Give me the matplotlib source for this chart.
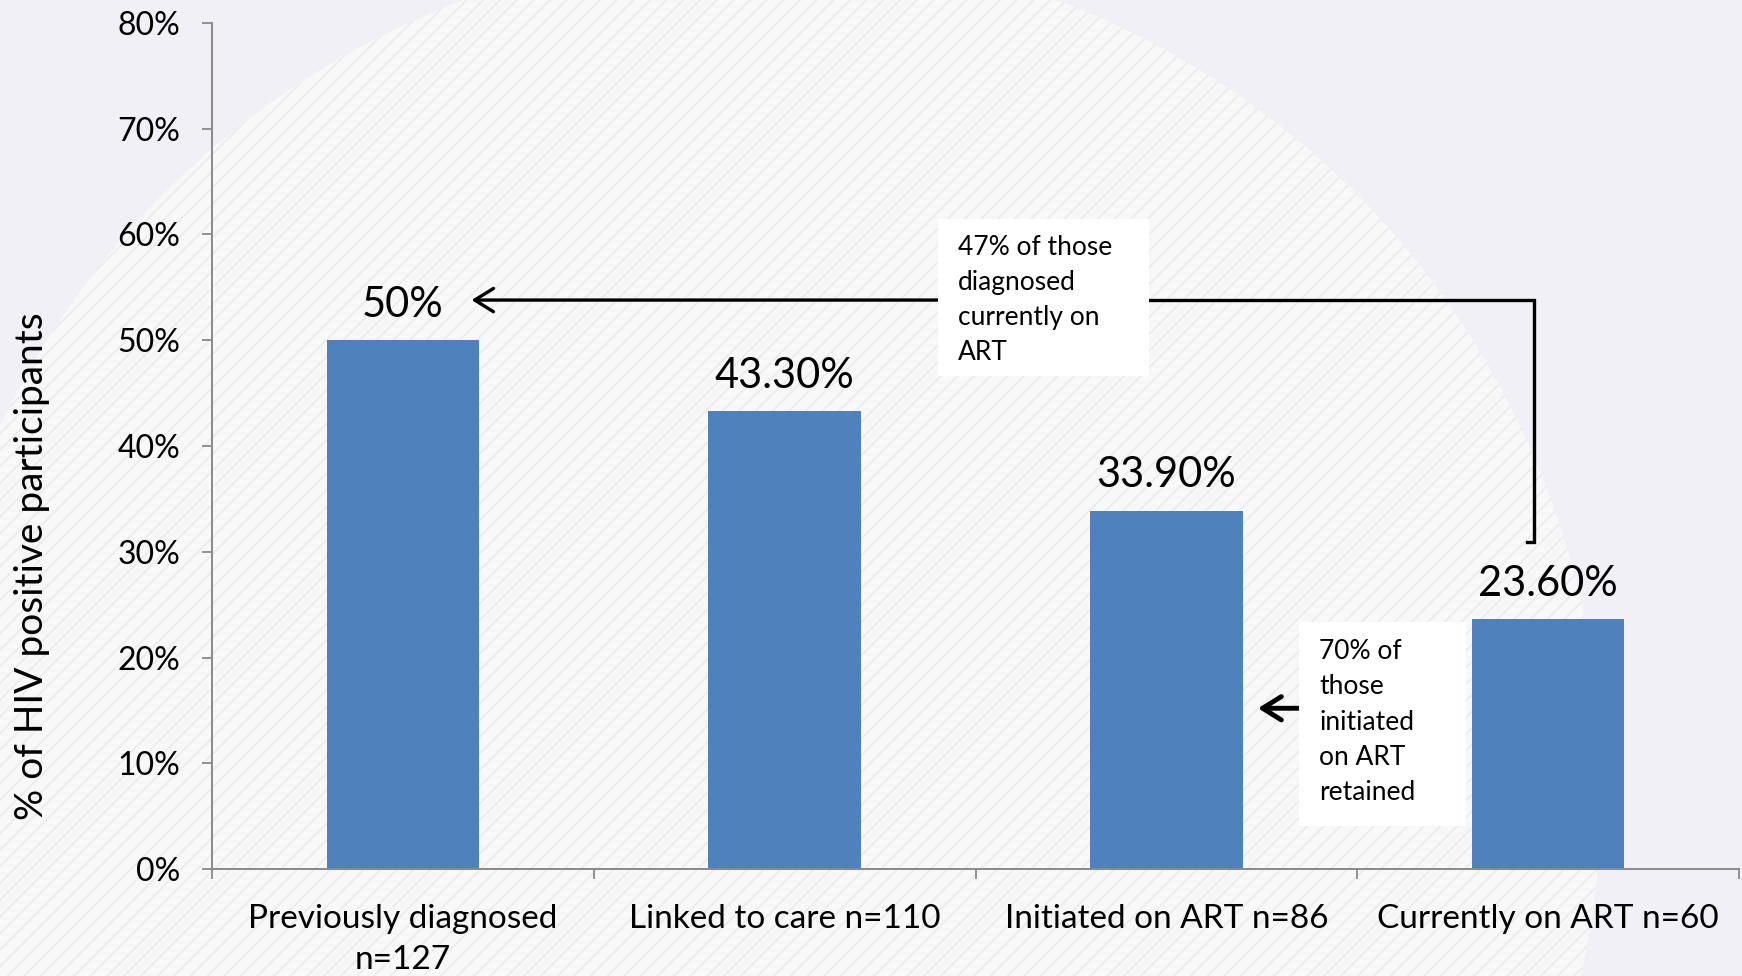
import matplotlib
matplotlib.use("Agg")
import matplotlib.pyplot as plt
from matplotlib.patches import Ellipse, Rectangle

# ---- data ----
categories = ["Previously diagnosed\nn=127", "Linked to care n=110",
              "Initiated on ART n=86", "Currently on ART n=60"]
values = [50.0, 43.3, 33.9, 23.6]
value_labels = ["50%", "43.30%", "33.90%", "23.60%"]
y_ticks = [0, 10, 20, 30, 40, 50, 60, 70, 80]
y_tick_labels = [f"{t}%" for t in y_ticks]
y_label = "% of HIV positive participants"
note_diagnosed = "47% of those\ndiagnosed\ncurrently on\nART"
note_retained = "70% of\nthose\ninitiated\non ART\nretained"

plt.rcParams["font.family"] = ["Lato", "DejaVu Sans"]
plt.rcParams["hatch.linewidth"] = 1.3

W, H = 1742, 976
fig = plt.figure(figsize=(W / 100, H / 100), dpi=100, facecolor="#f0f0f6")

# background disc with diagonal hatching
cx, cy, r = 760, 788, 842
disc = Ellipse((cx / W, 1 - cy / H), 2 * r / W, 2 * r / H, transform=fig.transFigure,
               facecolor="#f8f8f8", edgecolor="#ececec", hatch="//", linewidth=0, zorder=-1)
fig.add_artist(disc)

ax = fig.add_axes([212 / W, 1 - 869 / H, 1527 / W, 846 / H])
ax.set_facecolor("none")

x = list(range(len(categories)))
ax.bar(x, values, width=0.4, color="#4f81bd", zorder=2)

ax.set_xlim(-0.5, len(categories) - 0.5)
ax.set_ylim(0, 80)

for s in ["top", "right"]:
    ax.spines[s].set_visible(False)
for s in ["left", "bottom"]:
    ax.spines[s].set_color("#8a8a8a")
    ax.spines[s].set_linewidth(1.4)

ax.set_yticks(y_ticks)
ax.set_yticklabels(y_tick_labels, fontsize=23)
ax.tick_params(axis="y", direction="out", length=7, width=1.3, color="#8a8a8a", pad=16)

ax.set_xticks(x)
ax.set_xticklabels(categories, fontsize=24, linespacing=1.45)
ax.set_xticks([i - 0.5 for i in range(len(categories) + 1)], minor=True)
ax.tick_params(axis="x", which="major", length=0, pad=25)
ax.tick_params(axis="x", which="minor", direction="out", length=7, width=1.3, color="#8a8a8a")

ax.set_ylabel(y_label, fontsize=28, va="center")
ax.yaxis.set_label_coords(-0.118, 0.358)

# value labels
for xi, v, lbl in zip(x, values, value_labels):
    ax.annotate(lbl, (xi, v), xytext=(0, 25.5), textcoords="offset points",
                ha="center", va="center", fontsize=30, zorder=5)

# note boxes
ax.add_patch(Rectangle((1.403, 46.6), 0.552, 14.9, facecolor="white",
                       edgecolor="none", zorder=4))
ax.text(1.453, 53.8, note_diagnosed, ha="left", va="center", fontsize=19,
        linespacing=1.5, zorder=5)

ax.add_patch(Rectangle((2.348, 4.07), 0.437, 19.33, facecolor="white",
                       edgecolor="none", zorder=4))
ax.text(2.40, 13.9, note_retained, ha="left", va="center", fontsize=19,
        linespacing=1.52, zorder=5)

# bracket arrow from last bar back to first
ax.plot([2.945, 2.963, 2.963, 1.9], [30.9, 30.9, 53.8, 53.8], color="black",
        lw=2.4, solid_joinstyle="miter", zorder=3)
ax.annotate("", xy=(0.18, 53.8), xytext=(1.95, 53.8),
            arrowprops=dict(arrowstyle="->,head_length=0.45,head_width=0.28",
                            color="black", lw=2.4, shrinkA=0, shrinkB=0,
                            mutation_scale=30), zorder=3)

# short arrow
ax.annotate("", xy=(2.24, 15.2), xytext=(2.348, 15.2),
            arrowprops=dict(arrowstyle="->,head_length=0.45,head_width=0.28",
                            color="black", lw=3.5, shrinkA=0, shrinkB=0,
                            mutation_scale=30), zorder=3)

fig.savefig("out.png", dpi=100, facecolor=fig.get_facecolor())
